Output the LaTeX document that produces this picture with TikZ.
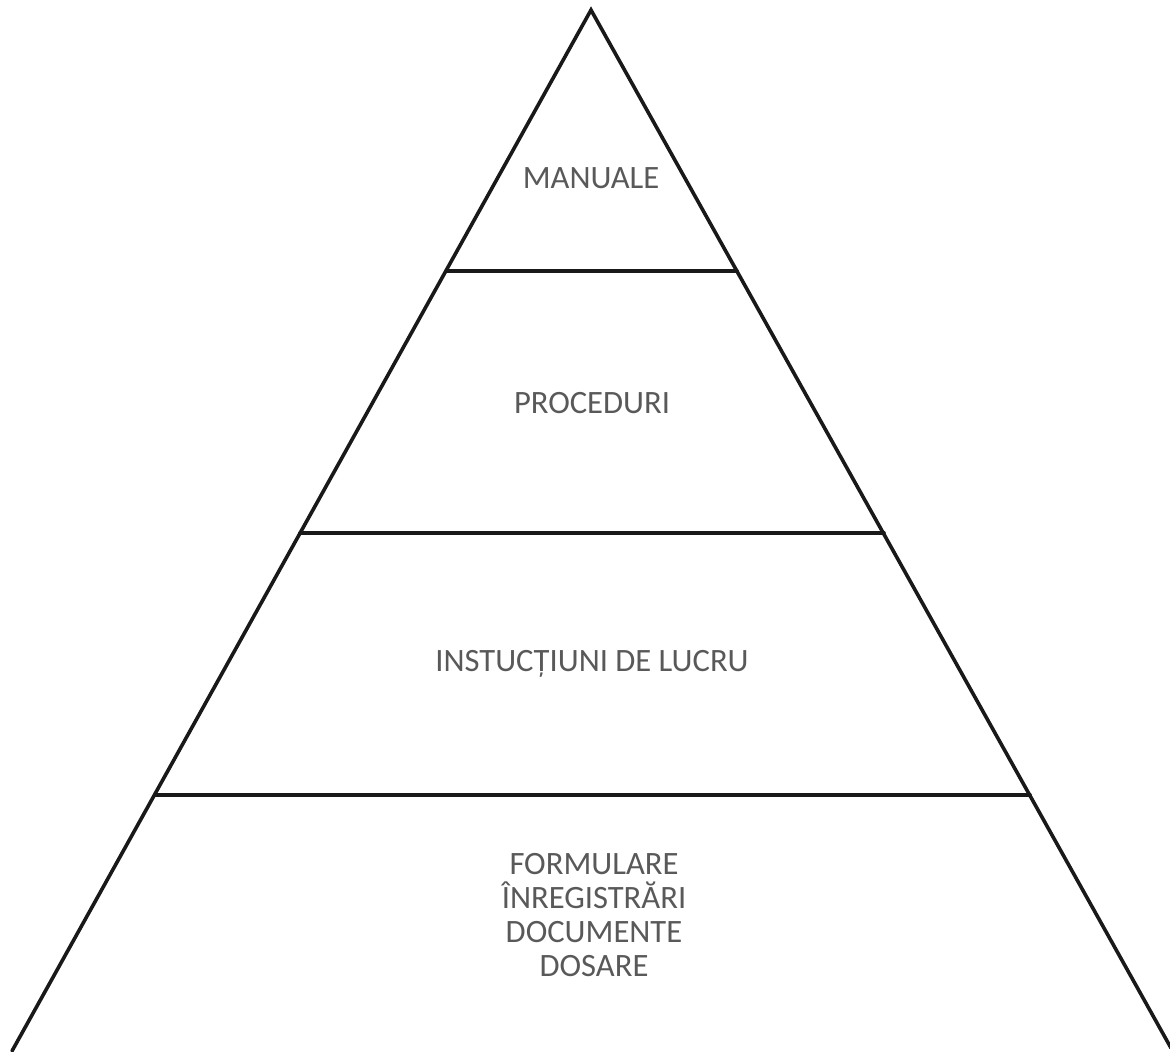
\documentclass[tikz,border=0pt]{standalone}
\usepackage{fontspec}
\setmainfont{Carlito}
\begin{document}
\begin{tikzpicture}[x=0.5pt,y=-0.5pt,
  edge/.style={line width=1.8pt,black!90,line cap=round},
  lbl/.style={font=\fontsize{16.3}{17}\selectfont,text=black!65,align=center,inner sep=0pt}]
\useasboundingbox (0,0) rectangle (1170,1051);
\coordinate (apex) at (591,10);
\coordinate (bl) at (12,1051);
\coordinate (br) at (1171,1048);
\draw[edge] (bl) -- (apex) -- (br);
\coordinate (l1) at (446,271); \coordinate (r1) at (737,271);
\coordinate (l2) at (300,533); \coordinate (r2) at (884,533);
\coordinate (l3) at (155,795); \coordinate (r3) at (1030,795);
\draw[edge] (l1) -- (r1);
\draw[edge] (l2) -- (r2);
\draw[edge] (l3) -- (r3);
\node[lbl,anchor=base] (m) at (591,188) {MANUALE};
\node[lbl,anchor=base] (p) at (592,413) {PROCEDURI};
\node[lbl,anchor=base] (i) at (592,671) {INSTUCȚIUNI DE LUCRU};
\node[lbl,anchor=north] (f) at (594,853) {FORMULARE\\ÎNREGISTRĂRI\\DOCUMENTE\\DOSARE};
\end{tikzpicture}
\end{document}
